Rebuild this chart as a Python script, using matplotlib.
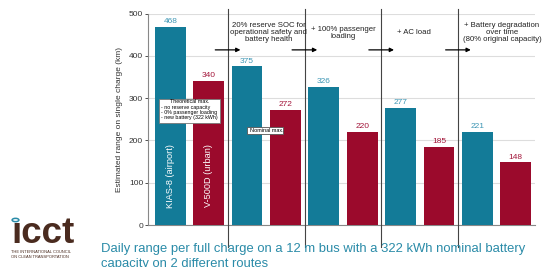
import numpy as np
import matplotlib.pyplot as plt
from matplotlib.patches import Rectangle, Circle

plt.rcParams['font.family'] = ['Liberation Sans', 'DejaVu Sans']
plt.rcParams['axes.unicode_minus'] = False

# data
stages = ['Theoretical max', '20% reserve SOC', '+ 100% passenger loading',
          '+ AC load', '+ Battery degradation']
kias_8 = [468, 375, 326, 277, 221]      # airport route
v_500d = [340, 272, 220, 185, 148]      # urban route
stage_notes = ['',
               '20% reserve SOC for\noperational safety and\nbattery health',
               '+ 100% passenger\nloading',
               '+ AC load',
               '+ Battery degradation\nover time\n(80% original capacity)']
yticks = [0, 100, 200, 300, 400, 500]

teal = '#137b98'
crimson = '#9b0a2c'
teal_txt = '#3f97b5'
red_txt = '#a3163a'

fig = plt.figure(figsize=(5.43, 2.67), dpi=100)
ax = fig.add_axes([148 / 543, 1 - 225 / 267, (535 - 148) / 543, (225 - 13.5) / 267])

x = np.arange(len(stages))
w = 0.40
off = 0.25
ax.bar(x - off, kias_8, width=w, color=teal, zorder=3)
ax.bar(x + off, v_500d, width=w, color=crimson, zorder=3)

for xi, a, b in zip(x, kias_8, v_500d):
    ax.text(xi - off, a + 4, str(a), ha='center', va='bottom', fontsize=6, color=teal_txt)
    ax.text(xi + off, b + 4, str(b), ha='center', va='bottom', fontsize=6, color=red_txt)

# route names inside first bars
ax.text(-off, 116, 'KIAS-8 (airport)', rotation=90, ha='center', va='center',
        color='white', fontsize=6.6)
ax.text(off, 116, 'V-500D (urban)', rotation=90, ha='center', va='center',
        color='white', fontsize=6.6)

# dividers between stages, with arrows and notes
for i in range(1, len(stages)):
    ax.plot([i - 0.5, i - 0.5], [-52, 511], color='#444444', lw=0.8,
            clip_on=False, zorder=4)
    ax.annotate('', xy=(i - 0.5 + 0.2, 414), xytext=(i - 0.5 - 0.2, 414),
                arrowprops=dict(arrowstyle='-|>', color='black', lw=0.9,
                                mutation_scale=6), zorder=5)
note_x = [0, 1.03, 2.0, 2.92, 4.07]
note_y = [0, 456, 454, 454, 456]
for i, note in enumerate(stage_notes):
    if note:
        ax.text(note_x[i], note_y[i], note, ha='center', va='center', fontsize=5.6,
                linespacing=1.0, color='#222222', zorder=5, clip_on=False)

# theoretical max box
ax.add_patch(Rectangle((-0.395, 241), 0.795, 57, facecolor='white',
                       edgecolor='#777777', lw=0.6, zorder=6))
ax.text(0.0, 292, 'Theoretical max.', ha='center', va='center', fontsize=3.8, zorder=7)
ax.text(-0.37, 266, '- no reserve capacity\n- 0% passenger loading\n- new battery (322 kWh)',
        ha='left', va='center', fontsize=3.8, linespacing=1.0, zorder=7)

# nominal max box
ax.add_patch(Rectangle((0.75, 216), 0.47, 16, facecolor='white',
                       edgecolor='#555555', lw=0.6, zorder=6))
ax.text(0.79, 224, 'Nominal max.', ha='left', va='center', fontsize=4, zorder=7)

ax.set_xlim(-0.54, 4.5)
ax.set_ylim(0, 500)
ax.set_xticks([])
ax.set_yticks(yticks)
ax.tick_params(axis='y', labelsize=6, length=2, width=0.6, pad=1.5, colors='#333333')
ax.grid(axis='y', color='#dddddd', lw=0.8, zorder=0)
for s in ['top', 'right']:
    ax.spines[s].set_visible(False)
for s in ['left', 'bottom']:
    ax.spines[s].set_color('#888888')
    ax.spines[s].set_linewidth(0.8)
ax.set_ylabel('Estimated range on single charge (km)', fontsize=6, color='#333333', labelpad=4)

# caption
fig.text(101 / 543, 1 - 249 / 267, 'Daily range per full charge on a 12 m bus with a 322 kWh nominal battery',
         ha='left', va='center', fontsize=9.35, color='#2a8ba8')
fig.text(101 / 543, 1 - 264 / 267, 'capacity on 2 different routes',
         ha='left', va='center', fontsize=9.35, color='#2a8ba8')

# logo
fig.text(11 / 543, 1 - 243 / 267, '\u0131cct', ha='left', va='baseline', fontsize=26.5,
         fontweight='bold', color='#4a2b1f')
fig.patches.append(Circle((15.5 / 543, 1 - 220 / 267), 0.0062, transform=fig.transFigure,
                          facecolor='white', edgecolor='#2a8ba8', lw=1.1))
fig.text(11 / 543, 1 - 254.5 / 267, 'THE INTERNATIONAL COUNCIL\nON CLEAN TRANSPORTATION',
         ha='left', va='center', fontsize=2.9, linespacing=1.1, color='#4a2b1f')

fig.savefig('out.png', dpi=100)
